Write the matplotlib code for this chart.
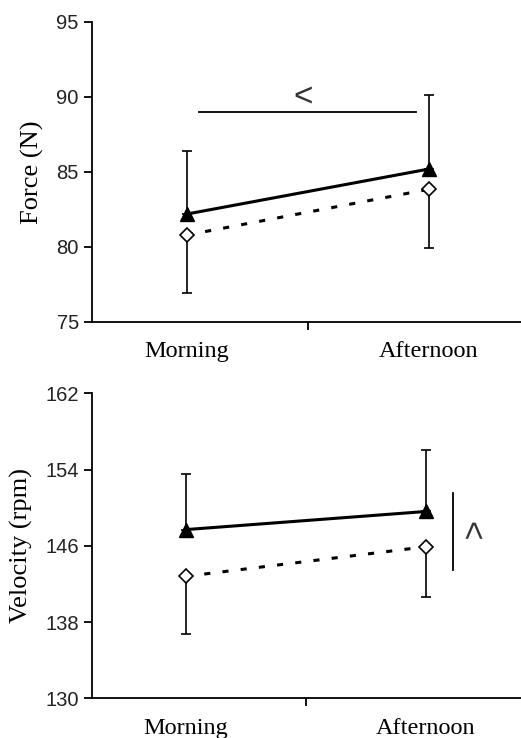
import numpy as np
import matplotlib
matplotlib.use("Agg")
import matplotlib.pyplot as plt

# data
sessions = ["Morning", "Afternoon"]

force_tri = [82.2, 85.2]
force_tri_sd = [4.2, 4.9]
force_dia = [80.8, 83.85]
force_dia_sd = [3.9, 3.95]

vel_tri = [147.7, 149.6]
vel_tri_sd = [5.8, 6.5]
vel_dia = [142.8, 145.9]
vel_dia_sd = [6.1, 5.3]

serif = "Liberation Serif"
sans = "Liberation Sans"

fig = plt.figure(figsize=(5.21, 7.38), dpi=100)
ax1 = fig.add_axes([0.1766, 0.5637, 0.8234, 0.4065])
ax2 = fig.add_axes([0.1766, 0.0538, 0.8234, 0.4133])

x = np.arange(len(sessions))


def draw_panel(ax, tri, tri_sd, dia, dia_sd, ylim, yticks, ylabel, xlim):
    # triangles with upper error bars, diamonds with lower
    ax.errorbar(x, tri, yerr=[np.zeros(2), tri_sd], fmt="none", ecolor="black",
                elinewidth=1.2, capsize=3.5, capthick=1.2, zorder=2)
    ax.errorbar(x, dia, yerr=[dia_sd, np.zeros(2)], fmt="none", ecolor="black",
                elinewidth=1.2, capsize=3.5, capthick=1.2, zorder=2)
    ax.plot(x, tri, color="black", lw=2.2, marker="^", markersize=10.5,
            markerfacecolor="black", zorder=3)
    ax.plot(x, dia, color="black", lw=2.2, linestyle=(0, (2.0, 4.0)), marker="D",
            markersize=7.5, markerfacecolor="white", markeredgecolor="black",
            markeredgewidth=1.2, zorder=4)
    ax.set_xlim(*xlim)
    ax.set_ylim(*ylim)
    ax.set_yticks(yticks)
    ax.set_xticks([0.5])
    ax.set_xticklabels([""])
    for xi, lab in zip(x, sessions):
        ax.text(xi, -0.065, lab, transform=ax.get_xaxis_transform(), ha="center",
                va="top", fontsize=17.5, family=serif)
    ax.set_ylabel(ylabel, fontsize=19, family=serif, labelpad=9)
    for s in ["top", "right"]:
        ax.spines[s].set_visible(False)
    for s in ["left", "bottom"]:
        ax.spines[s].set_linewidth(1.3)
    ax.tick_params(axis="both", direction="out", length=6, width=1.3,
                   labelsize=14.5)
    for t in ax.get_yticklabels():
        t.set_family(sans)
        t.set_color("#222222")
    ax.spines["bottom"].set_clip_on(False)


draw_panel(ax1, force_tri, force_tri_sd, force_dia, force_dia_sd,
           (75, 95), [75, 80, 85, 90, 95], "Force (N)", (-0.393, 1.38))
draw_panel(ax2, vel_tri, vel_tri_sd, vel_dia, vel_dia_sd,
           (130, 162), [130, 138, 146, 154, 162], "Velocity (rpm)", (-0.392, 1.396))

# significance markers
ax1.plot([0.05, 0.945], [89.0, 89.0], color="black", lw=1.3)
ax1.text(0.48, 89.9, "<", ha="center", va="center", fontsize=24, family=sans,
         color="#333333")

ax2.plot([1.114, 1.114], [143.5, 151.5], color="black", lw=1.3)
ax2.text(1.175, 147.6, "<", ha="center", va="center", fontsize=24, family=sans,
         rotation=-90, color="#333333")

fig.savefig("out.png", dpi=100)
